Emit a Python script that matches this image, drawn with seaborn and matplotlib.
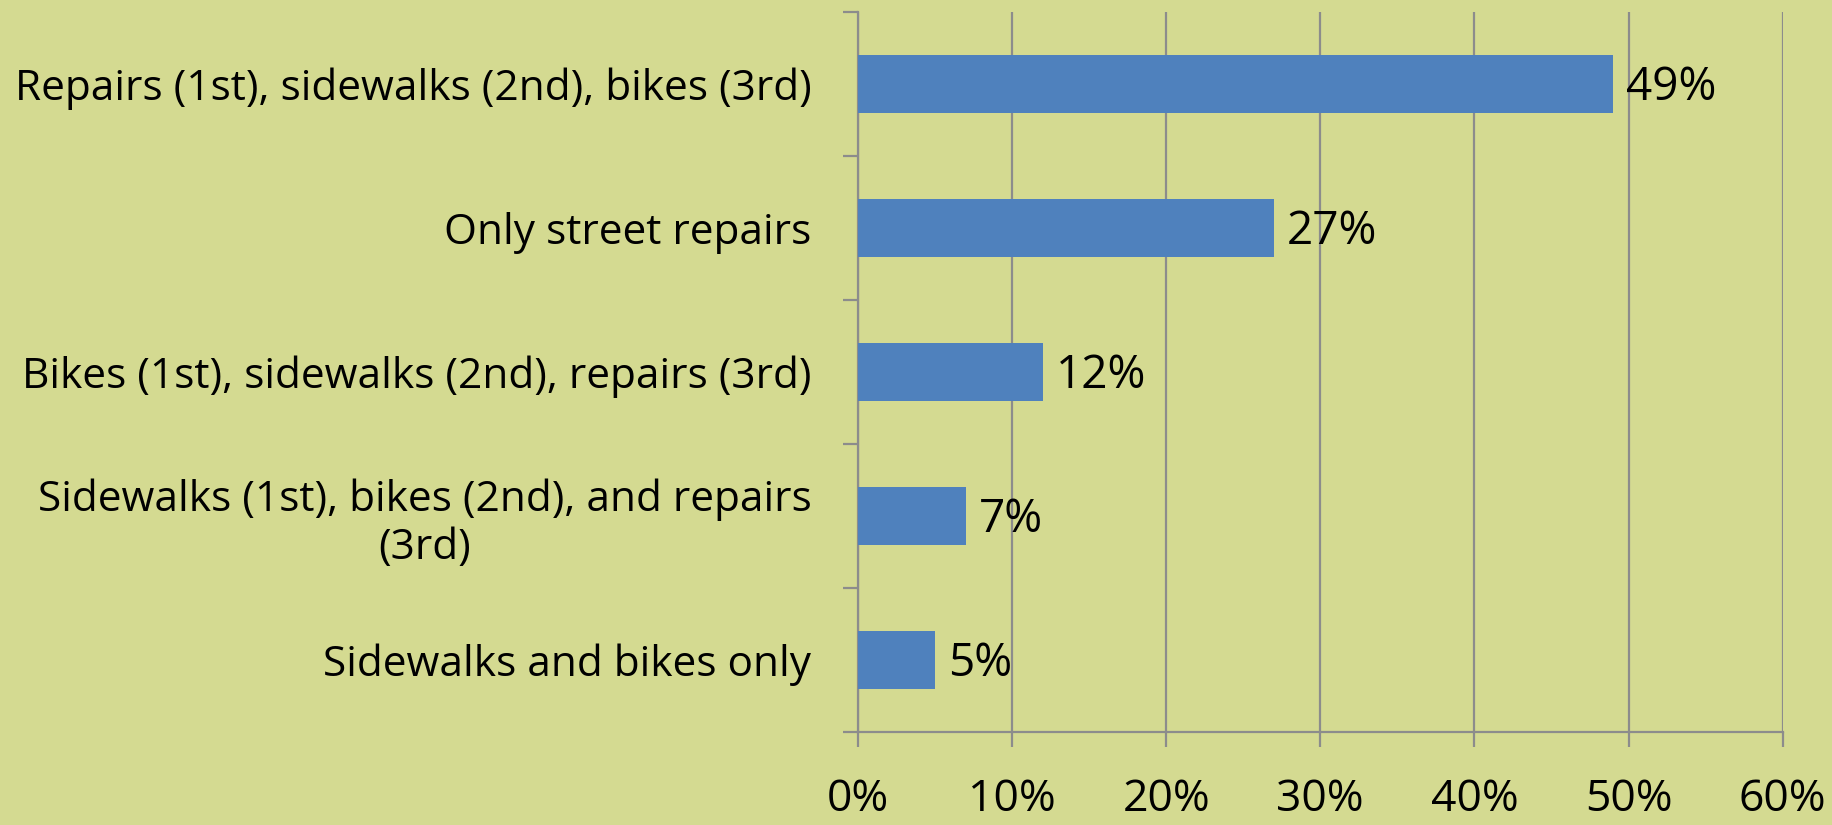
import numpy as np
import pandas as pd
import seaborn as sns
import matplotlib.pyplot as plt
from matplotlib.ticker import FixedLocator, PercentFormatter

# data
categories = [
    "Repairs (1st), sidewalks (2nd), bikes (3rd)",
    "Only street repairs",
    "Bikes (1st), sidewalks (2nd), repairs (3rd)",
    "Sidewalks (1st), bikes (2nd), and repairs\n(3rd)",
    "Sidewalks and bikes only",
]
shares = [49, 27, 12, 7, 5]
x_ticks = [0, 10, 20, 30, 40, 50, 60]

bg = "#D4DA91"
bar_color = "#4F81BD"
grid_color = "#8C8C8C"

sns.set_theme(style="white")
plt.rcParams["font.family"] = ["Open Sans", "DejaVu Sans"]

df = pd.DataFrame({"category": categories, "share": shares})

fig = plt.figure(figsize=(18.33, 8.25), dpi=100, facecolor=bg)
ax = fig.add_axes([0.468, 0.113, 0.5046, 0.8725])
ax.set_facecolor(bg)

sns.barplot(data=df, x="share", y="category", color=bar_color,
            width=0.4, saturation=1, linewidth=0, ax=ax, zorder=3)

ax.set_xlim(0, 60)
ax.set_ylim(len(categories) - 0.5, -0.5)
ax.set_xlabel("")
ax.set_ylabel("")

# vertical gridlines
ax.xaxis.set_major_locator(FixedLocator(x_ticks))
ax.xaxis.set_major_formatter(PercentFormatter(decimals=0))
ax.grid(axis="x", color=grid_color, linewidth=1.6, zorder=0)
ax.set_axisbelow(True)

for s in ["top", "right"]:
    ax.spines[s].set_visible(False)
for s in ["left", "bottom"]:
    ax.spines[s].set_color(grid_color)
    ax.spines[s].set_linewidth(1.6)

ax.tick_params(axis="x", direction="out", length=11, width=1.6, color=grid_color,
               labelsize=32, labelcolor="black", pad=22, bottom=True)
# category separators as minor ticks on the y axis
ax.yaxis.set_minor_locator(FixedLocator(np.arange(-0.5, len(categories), 1.0)))
ax.tick_params(axis="y", which="minor", direction="out", length=11, width=1.6,
               color=grid_color, left=True)
ax.tick_params(axis="y", which="major", length=0, labelsize=30.5,
               labelcolor="black", pad=33.5)
for lab in ax.get_yticklabels():
    lab.set_multialignment("center")

# value labels
for i, v in enumerate(shares):
    ax.text(v + 0.85, i + 0.03, f"{v}%", va="center", ha="left", fontsize=33,
            color="black")

fig.savefig("out.png", dpi=100, facecolor=bg)
